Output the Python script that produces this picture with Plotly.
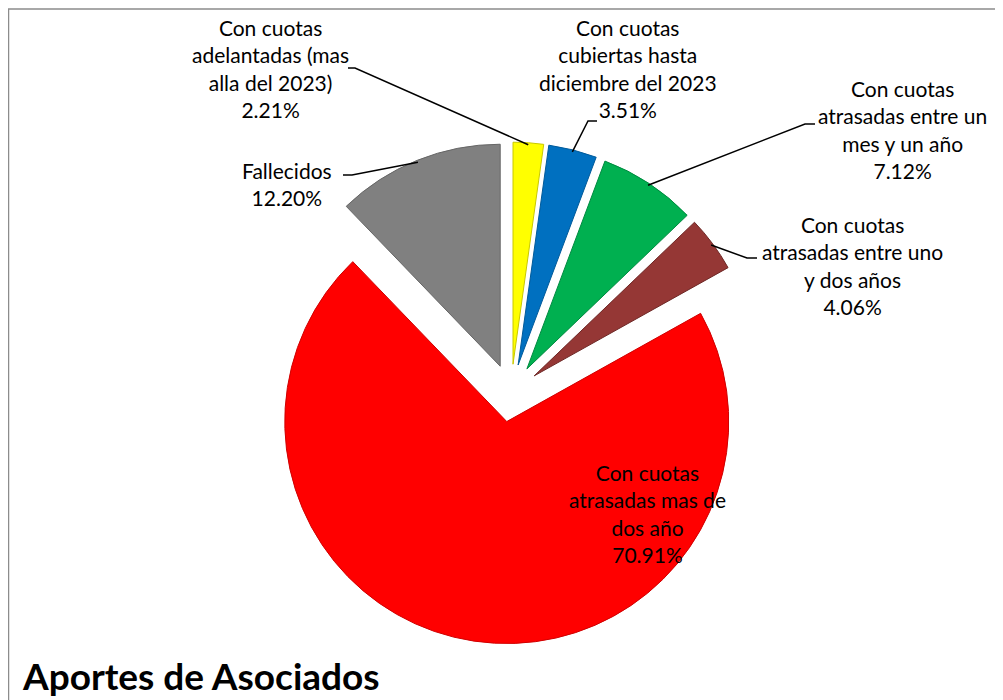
import math
import plotly.graph_objects as go

# Datos del gráfico (orden horario desde las 12)
etiquetas = [
    "Con cuotas<br>adelantadas (mas<br>alla del 2023)",
    "Con cuotas<br>cubiertas hasta<br>diciembre del 2023",
    "Con cuotas<br>atrasadas entre un<br>mes y un año",
    "Con cuotas<br>atrasadas entre uno<br>y dos años",
    "Con cuotas<br>atrasadas mas de<br>dos año",
    "Fallecidos",
]
porcentajes = [2.21, 3.51, 7.12, 4.06, 70.91, 12.20]
colores = ["#FFFF00", "#0070C0", "#00B050", "#953735", "#FF0000", "#808080"]
bordes = ["#C8C800", "#005A9A", "#008A40", "#6E2826", "#D00000", "#666666"]

# la pagina pone el grafico con 8px de margen
OFF = 8
W, H = 1003 - OFF, 700 - OFF
PULL = 0.13
# centro y radio del pastel (pixeles de la pagina)
CX, CY, R = 511, 393, 222

# posicion de los textos y codo de la linea guia (pixeles de la pagina)
pos_texto = [(270, 68), (628, 68), (902, 130), (852, 266), (647, 513), (287, 184)]
codos = [
    [(348, 68), (355, 68)],
    [(597, 121), (588, 121)],
    [(815, 124), (805, 124)],
    [(757, 258), (747, 258)],
    None,
    [(343, 175), (352, 175)],
]


def px2paper(x, y):
    return (x - OFF) / W, 1 - (y - OFF) / H


x0, y1 = px2paper(CX - R * (1 + PULL), CY - R * (1 + PULL))
x1, y0 = px2paper(CX + R * (1 + PULL), CY + R * (1 + PULL))

fig = go.Figure(go.Pie(
    labels=[e.replace("<br>", " ") for e in etiquetas],
    values=porcentajes,
    sort=False,
    direction="clockwise",
    rotation=0,
    pull=[PULL] * len(porcentajes),
    marker=dict(colors=colores, line=dict(color=bordes, width=1)),
    textinfo="none",
    hoverinfo="label+percent",
    showlegend=False,
    domain=dict(x=[x0, x1], y=[y0, y1]),
))

# etiquetas y lineas guia
total = sum(porcentajes)
acum = 0
for i, v in enumerate(porcentajes):
    medio = (acum + v / 2) / total * 2 * math.pi
    acum += v
    tx, ty = px2paper(*pos_texto[i])
    fig.add_annotation(
        x=tx, y=ty, xref="paper", yref="paper",
        text=f"{etiquetas[i]}<br>{v:.2f}%",
        showarrow=False, xanchor="center", yanchor="middle",
        font=dict(family="Lato", size=21, color="black"),
    )
    if codos[i] is None:
        continue
    rr = R * (1 + PULL) - 2
    ax, ay = CX + rr * math.sin(medio), CY - rr * math.cos(medio)
    pts = [px2paper(x, y) for x, y in codos[i] + [(ax, ay)]]
    path = "M " + " L ".join(f"{x},{y}" for x, y in pts)
    fig.add_shape(type="path", path=path, xref="paper", yref="paper",
                  line=dict(color="black", width=1.5))

# titulo abajo a la izquierda
tx, ty = px2paper(20, 700)
fig.add_annotation(
    x=tx, y=ty, xref="paper", yref="paper",
    text="<b>Aportes de Asociados</b>", showarrow=False,
    xanchor="left", yanchor="bottom",
    font=dict(family="Lato", size=37, color="black"),
)

# borde del grafico
bx0, by1 = px2paper(8.5, 9)
bx1, by0 = px2paper(1010, 710)
fig.add_shape(type="rect", xref="paper", yref="paper",
              x0=bx0, x1=bx1, y0=by0, y1=by1,
              line=dict(color="#8C8C8C", width=1.5))

fig.update_layout(
    width=W, height=H,
    margin=dict(l=0, r=0, t=0, b=0),
    paper_bgcolor="white",
    plot_bgcolor="white",
)

fig.write_html("out.html")
